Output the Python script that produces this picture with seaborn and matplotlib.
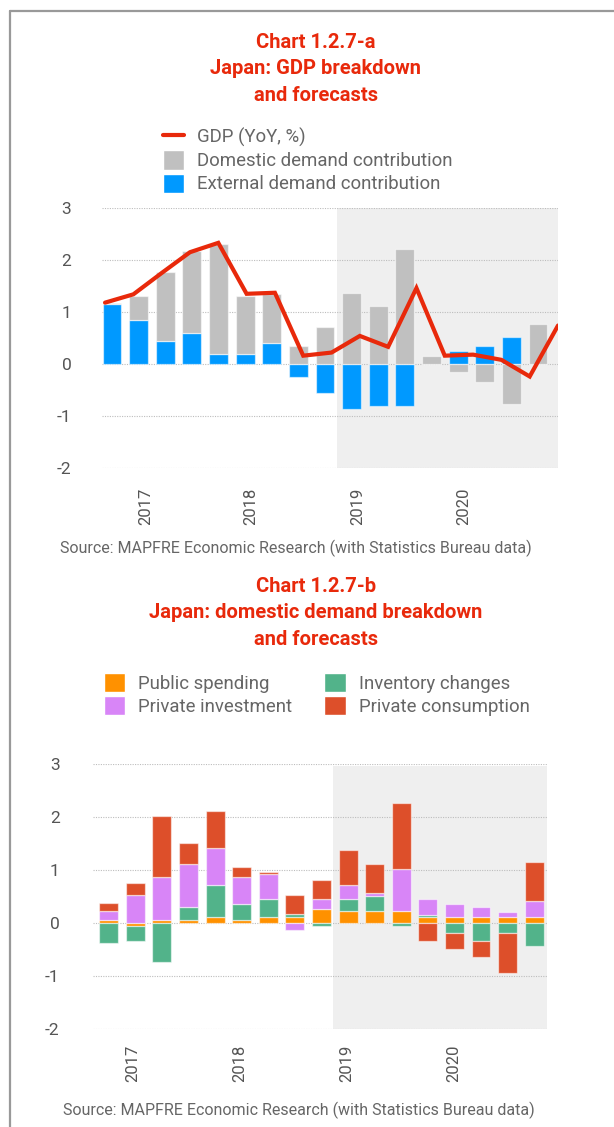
import numpy as np
import pandas as pd
import matplotlib
matplotlib.use("Agg")
import matplotlib.pyplot as plt
from matplotlib.patches import Patch
from matplotlib.lines import Line2D
import seaborn as sns

# ---------------- data ----------------
quarters = ["2017Q1", "2017Q2", "2017Q3", "2017Q4",
            "2018Q1", "2018Q2", "2018Q3", "2018Q4",
            "2019Q1", "2019Q2", "2019Q3", "2019Q4",
            "2020Q1", "2020Q2", "2020Q3", "2020Q4",
            "2021Q1"]
year_labels = ["2017", "2018", "2019", "2020"]
y_ticks = [-2, -1, 0, 1, 2, 3]

gdp_yoy = [1.18, 1.34, 1.75, 2.15, 2.33, 1.35, 1.37, 0.16, 0.22,
           0.54, 0.33, 1.46, 0.16, 0.18, 0.08, -0.24, 0.74]
domestic_contrib = [0.02, 0.45, 1.31, 1.57, 2.11, 1.10, 0.95, 0.35, 0.71,
                    1.36, 1.11, 2.22, 0.15, -0.15, -0.35, -0.76, 0.76]
external_contrib = [1.15, 0.85, 0.45, 0.60, 0.20, 0.20, 0.40, -0.25, -0.55,
                    -0.86, -0.81, -0.81, 0.0, 0.25, 0.35, 0.51, 0.0]

public_spending = [0.06, -0.06, 0.05, 0.05, 0.11, 0.05, 0.11, 0.11, 0.26,
                   0.22, 0.22, 0.22, 0.11, 0.11, 0.11, 0.11, 0.11]
inventory_changes = [-0.38, -0.28, -0.74, 0.26, 0.60, 0.31, 0.35, 0.06, -0.06,
                     0.24, 0.29, -0.06, 0.05, -0.19, -0.34, -0.19, -0.44]
private_investment = [0.16, 0.52, 0.82, 0.81, 0.71, 0.51, 0.46, -0.13, 0.20,
                      0.26, 0.06, 0.79, 0.30, 0.25, 0.20, 0.10, 0.30]
private_consumption = [0.15, 0.24, 1.15, 0.39, 0.70, 0.19, 0.05, 0.35, 0.35,
                       0.65, 0.55, 1.26, -0.34, -0.30, -0.30, -0.75, 0.75]

forecast_start = "2019Q2"

# ---------------- style ----------------
sns.set_theme(style="white")
plt.rcParams["font.family"] = ["Roboto", "DejaVu Sans"]

TITLE_RED = "#E8290B"
TEXT_GREY = "#666666"
TICK_GREY = "#555555"
GRID_GREY = "#BDBDBD"
SHADE = "#EFEFEF"

W, H = 614, 1127
fig = plt.figure(figsize=(W / 100, H / 100), dpi=100)
fig.patch.set_facecolor("white")

# frame lines (top and left)
fig.add_artist(Line2D([10 / W, 10 / W], [0, 1 - 11 / H], transform=fig.transFigure,
                      color="#999999", lw=1.6))
fig.add_artist(Line2D([10 / W, 1], [1 - 11 / H, 1 - 11 / H], transform=fig.transFigure,
                      color="#999999", lw=1.6))


def px_axes(left, right, top, bottom):
    return fig.add_axes([left / W, (H - bottom) / H, (right - left) / W, (bottom - top) / H])


def style_axes(ax, xlim, tick_pos, ypad, xpad):
    ax.set_xlim(*xlim)
    ax.set_ylim(-2, 3)
    ax.set_yticks(y_ticks)
    ax.set_yticklabels([str(t) for t in y_ticks])
    ax.yaxis.grid(True, linestyle=(0, (1, 1.2)), color=GRID_GREY, lw=0.8)
    ax.xaxis.grid(False)
    ax.set_axisbelow(True)
    for s in ax.spines.values():
        s.set_visible(False)
    ax.set_xticks(tick_pos)
    ax.set_xticklabels(year_labels, rotation=90)
    ax.tick_params(axis="y", length=0, pad=ypad, labelsize=12.5, labelcolor=TICK_GREY)
    ax.tick_params(axis="x", length=0, pad=xpad, labelsize=12, labelcolor=TICK_GREY)
    ax.set_xlabel("")
    ax.set_ylabel("")
    ax.patch.set_alpha(0)


def stacked(ax, x, layers, colors, width):
    pos = np.zeros(len(x))
    neg = np.zeros(len(x))
    for vals, col in zip(layers, colors):
        v = np.asarray(vals, dtype=float)
        base = np.where(v >= 0, pos, neg)
        ax.bar(x, v, width=width, bottom=base, color=col,
               edgecolor=(1, 1, 1, 0.55), linewidth=0.9, zorder=2)
        pos = pos + np.where(v >= 0, v, 0)
        neg = neg + np.where(v < 0, v, 0)


n = len(quarters)
x = np.arange(n)
fc_idx = quarters.index(forecast_start)

# ---------------- chart a ----------------
fig.text(316 / W, 1 - 33 / H, "Chart 1.2.7-a\nJapan: GDP breakdown\nand forecasts",
         ha="center", va="top", color=TITLE_RED, fontsize=14.5, fontweight="bold",
         linespacing=1.5)

ax1 = px_axes(102, 558, 208, 468)
xl1 = (-0.375, 16.75)
ax1.axvspan(fc_idx - 0.55, xl1[1], color=SHADE, zorder=0, lw=0)
stacked(ax1, x, [external_contrib, domestic_contrib], ["#0099FF", "#C0C0C0"], 0.71)
line_x = np.linspace(-0.26, 16.75, n)
df_gdp = pd.DataFrame({"x": line_x, "gdp": gdp_yoy})
sns.lineplot(data=df_gdp, x="x", y="gdp", ax=ax1, color="#E8290B", lw=3.0,
             zorder=4, solid_joinstyle="miter", legend=False)
style_axes(ax1, xl1, [1.28, 5.22, 9.22, 13.2], ypad=22, xpad=14)

leg1 = fig.legend(
    handles=[Line2D([], [], color="#E8290B", lw=3.0),
             Patch(facecolor="#C0C0C0"),
             Patch(facecolor="#0099FF")],
    labels=["GDP (YoY, %)", "Domestic demand contribution", "External demand contribution"],
    loc="upper left", bbox_to_anchor=(163 / W, 1 - 127 / H), frameon=False,
    fontsize=13.4, labelcolor=TEXT_GREY, handlelength=1.15, handleheight=1.2,
    handletextpad=0.7, labelspacing=0.18, borderaxespad=0, borderpad=0)

fig.text(60 / W, 1 - 548 / H, "Source: MAPFRE Economic Research (with Statistics Bureau data)",
         ha="left", va="center", color=TEXT_GREY, fontsize=11.5)

# ---------------- chart b ----------------
fig.text(316 / W, 1 - 577 / H,
         "Chart 1.2.7-b\nJapan: domestic demand breakdown\nand forecasts",
         ha="center", va="top", color=TITLE_RED, fontsize=14.5, fontweight="bold",
         linespacing=1.5)

ax2 = px_axes(93, 547, 764, 1029)
xl2 = (-0.59, 16.48)
ax2.axvspan(fc_idx - 0.56, xl2[1], ymin=0, ymax=0.992, color=SHADE, zorder=0, lw=0)
stacked(ax2, x,
        [public_spending, inventory_changes, private_investment, private_consumption],
        ["#FF9100", "#52B38A", "#D885F7", "#DD4F2A"], 0.71)
style_axes(ax2, xl2, [0.9, 4.92, 8.95, 12.97], ypad=24, xpad=11)

leg2 = fig.legend(
    handles=[Patch(facecolor="#FF9100"), Patch(facecolor="#D885F7"),
             Patch(facecolor="#52B38A"), Patch(facecolor="#DD4F2A")],
    labels=["Public spending", "Private investment", "Inventory changes", "Private consumption"],
    ncol=2, loc="upper left", bbox_to_anchor=(104 / W, 1 - 673 / H), frameon=False,
    fontsize=13.4, labelcolor=TEXT_GREY, handlelength=1.15, handleheight=1.2,
    handletextpad=0.7, labelspacing=0.18, columnspacing=1.7, borderaxespad=0, borderpad=0)

fig.text(63 / W, 1 - 1110 / H, "Source: MAPFRE Economic Research (with Statistics Bureau data)",
         ha="left", va="center", color=TEXT_GREY, fontsize=11.5)

fig.savefig("out.png", dpi=100, facecolor="white")
